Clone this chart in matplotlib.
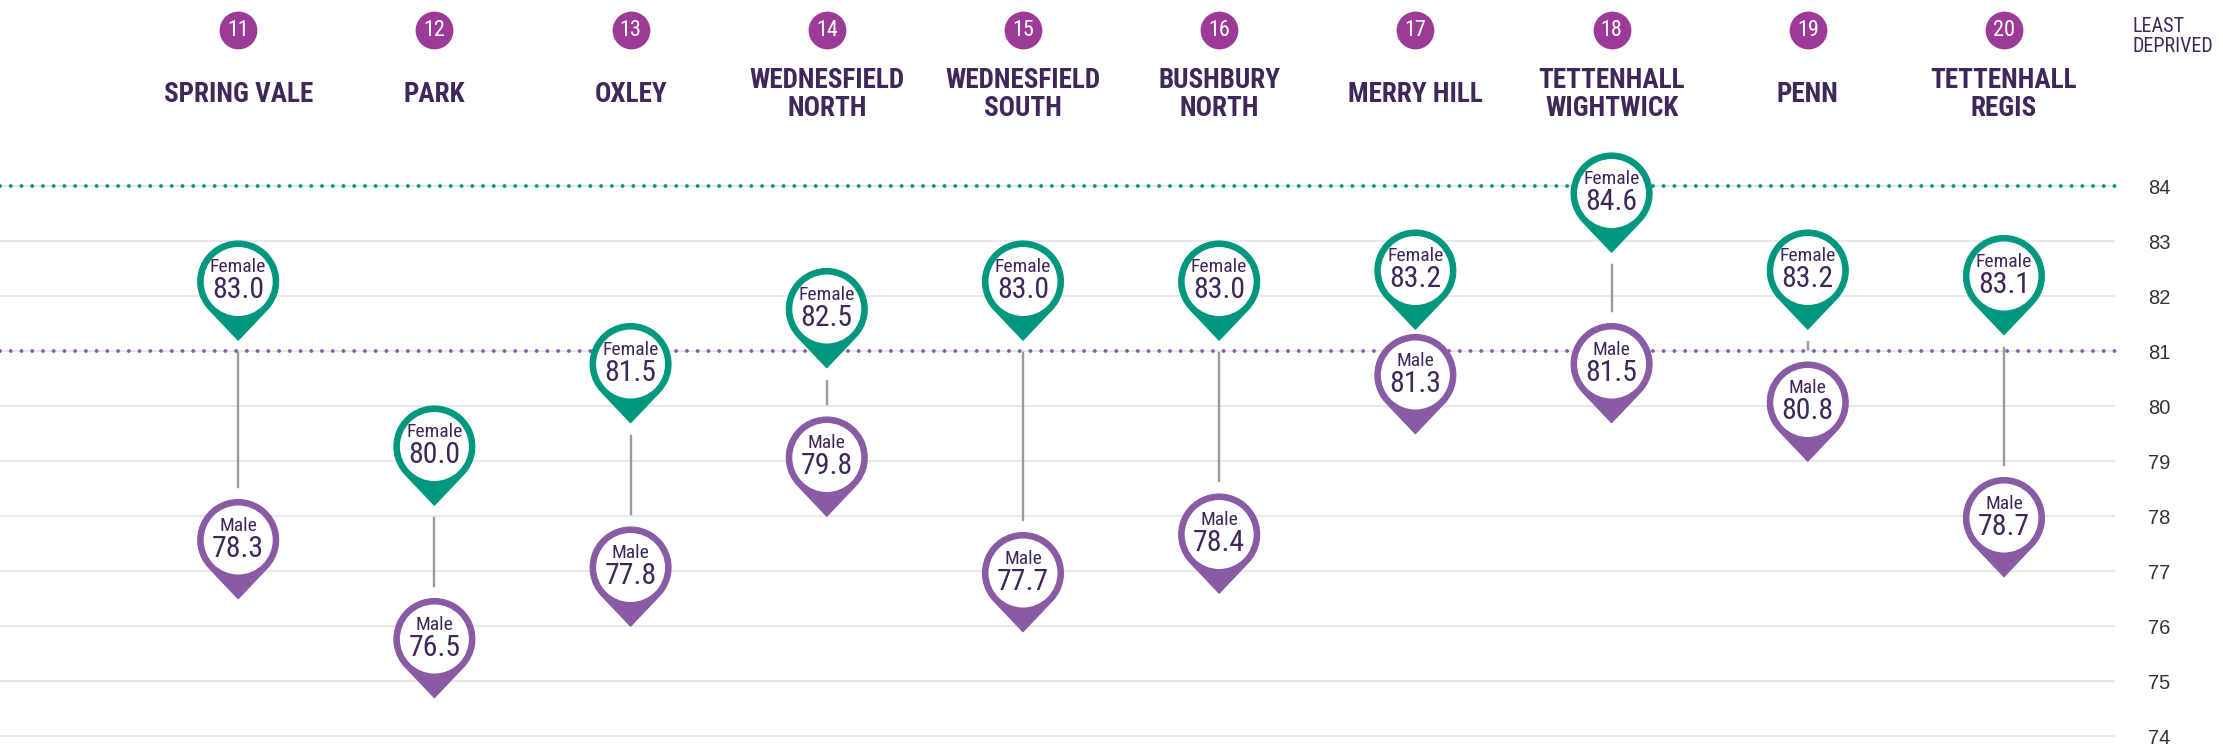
import math
import numpy as np
import matplotlib
matplotlib.use("Agg")
import matplotlib.pyplot as plt
import matplotlib.patches as mpatches
import matplotlib.transforms as mtransforms
from matplotlib.path import Path

# ward data (ranked 11-20, least deprived on the right)
ranks = [11, 12, 13, 14, 15, 16, 17, 18, 19, 20]
wards = ["SPRING VALE", "PARK", "OXLEY", "WEDNESFIELD\nNORTH", "WEDNESFIELD\nSOUTH",
         "BUSHBURY\nNORTH", "MERRY HILL", "TETTENHALL\nWIGHTWICK", "PENN", "TETTENHALL\nREGIS"]
female = [83.0, 80.0, 81.5, 82.5, 83.0, 83.0, 83.2, 84.6, 83.2, 83.1]
male = [78.3, 76.5, 77.8, 79.8, 77.7, 78.4, 81.3, 81.5, 80.8, 78.7]
female_avg = 84
male_avg = 81
yticks = list(range(74, 85))

TEAL = "#00977f"
MPURP = "#895ba5"
BADGE = "#9b3a97"
DARK = "#40275a"
NARROW = ["Roboto Condensed", "IBM Plex Sans Condensed", "Archivo Narrow",
          "Liberation Sans", "DejaVu Sans"]
REG = ["Liberation Sans", "DejaVu Sans"]

W, H = 2223, 749
fig = plt.figure(figsize=(W / 100, H / 100), dpi=100)
ax = fig.add_axes([0, 0, 2115 / W, 1])
ax.set_xlim(-1.214, 9.566)
ax.set_ylim(73.764, 87.382)
for s in ax.spines.values():
    s.set_visible(False)
ax.set_xticks([])
ax.yaxis.tick_right()
ax.set_yticks(yticks)
ax.set_yticklabels([str(t) for t in yticks])
ax.tick_params(axis="y", length=0, pad=23.5, labelsize=14.5, labelcolor="#333333")
for lab in ax.get_yticklabels():
    lab.set_family(REG)

# grid
for t in yticks:
    ax.axhline(t, color="#e6e6e6", lw=1.3, zorder=1)

# average lines (dotted)
for val, col in [(female_avg, TEAL), (male_avg, MPURP)]:
    ax.axhline(val, color=col, lw=2.8, linestyle=(0, (0.01, 2.75)),
               dash_capstyle="round", xmax=1.004, clip_on=False, zorder=2)


def pin_path(R, d):
    th = math.degrees(math.acos(R / d))
    arc = Path.arc(-90 + th, 270 - th)
    verts = arc.vertices * R + np.array([0, -R])
    verts = np.vstack([verts, [[0, -R - d], [0, -R - d]]])
    codes = list(arc.codes) + [Path.LINETO, Path.CLOSEPOLY]
    return Path(verts, codes)


R_OUT, R_IN, TIP = 0.405, 0.345, 0.588
PIN = pin_path(R_OUT, TIP)


def draw_pin(x, val, color, label):
    tr = fig.dpi_scale_trans + mtransforms.ScaledTranslation(x, val, ax.transData)
    ax.add_patch(mpatches.PathPatch(PIN, facecolor=color, edgecolor=color, lw=0.8,
                                    joinstyle="round", transform=tr, zorder=4))
    ax.add_patch(mpatches.Circle((0, -R_OUT), R_IN, facecolor="white", edgecolor="none",
                                 transform=tr, zorder=5))
    ax.text(0, -R_OUT + 0.095, label, transform=tr, ha="center", va="baseline",
            fontsize=14, color=DARK, family=NARROW, zorder=6)
    ax.text(0, -R_OUT - 0.165, f"{val:.1f}", transform=tr, ha="center", va="baseline",
            fontsize=21.5, color=DARK, family=NARROW, zorder=6)


px_per_unit = 55.0
for i in range(len(wards)):
    top = female[i] - (R_OUT + TIP) * 100 / px_per_unit - 13 / px_per_unit
    bot = male[i] + 13 / px_per_unit
    if top > bot:
        ax.plot([i, i], [bot, top], color="#9a9a9a", lw=1.7, zorder=3)
    draw_pin(i, female[i], TEAL, "Female")
    draw_pin(i, male[i], MPURP, "Male")

# header: rank badges and ward names
hdr = mtransforms.blended_transform_factory(ax.transData, fig.dpi_scale_trans)
xs = np.arange(len(wards))
ax.scatter(xs, [(H - 30) / 100] * len(xs), s=740, color=BADGE, transform=hdr,
           clip_on=False, zorder=5, linewidths=0)
for i, r in enumerate(ranks):
    ax.text(i, (H - 31) / 100, str(r), transform=hdr, ha="center", va="center",
            fontsize=16, color="white", family=NARROW, zorder=6)
    lines = wards[i].split("\n")
    n = len(lines)
    for j, ln in enumerate(lines):
        base = 101.7 + (j - (n - 1) / 2) * 28.4
        ax.text(i, (H - base) / 100, ln, transform=hdr, ha="center", va="baseline",
                fontsize=19.5, fontweight="bold", color=DARK, family=NARROW)

fig.text(2133 / W, 1 - 31.7 / H, "LEAST", ha="left", va="baseline",
         fontsize=14.5, color=DARK, family=NARROW)
fig.text(2133 / W, 1 - 51.7 / H, "DEPRIVED", ha="left", va="baseline",
         fontsize=14.5, color=DARK, family=NARROW)

fig.savefig("out.png", dpi=100, facecolor="white")
